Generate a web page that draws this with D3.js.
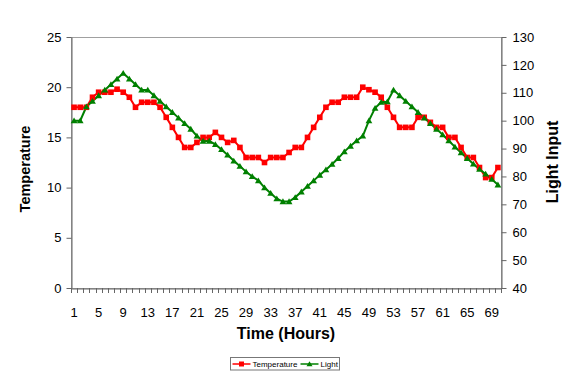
<!DOCTYPE html>
<html>
<head>
<meta charset="utf-8">
<script src="https://cdn.jsdelivr.net/npm/d3@7"></script>
<style>
  body { margin: 0; background: #fff; }
  svg { display: block; font-family: "Liberation Sans", Arial, sans-serif; }
</style>
</head>
<body>
<svg id="chart" width="583" height="384"></svg>
<script>
// hours 1..70
const hours = d3.range(1, 71)
const temperature = [
  18, 18, 18, 19, 19.5, 19.5, 19.5, 19.8, 19.5, 19,
  18, 18.5, 18.5, 18.5, 18, 17, 16, 15, 14, 14,
  14.5, 15, 15, 15.5, 15, 14.5, 14.7, 14, 13, 13,
  13, 12.5, 13, 13, 13, 13.5, 14, 14, 15, 16,
  17, 18, 18.5, 18.5, 19, 19, 19, 20, 19.75, 19.5,
  19, 18, 17, 16, 16, 16, 17, 17, 16.5, 16,
  16, 15, 15, 14, 13, 13, 12, 11, 11, 12
]
const light = [
  100, 100, 105, 107, 109, 111, 113, 115, 117, 115,
  113, 111, 111, 109, 107, 105, 103, 101, 99, 97,
  94.5, 92.7, 92.7, 91.5, 89.7, 87.7, 85.6, 83.7, 81.7, 80,
  78.5, 76, 74, 72, 71, 71, 72.5, 74.5, 76.5, 78.5,
  80.5, 82.4, 84.4, 86.5, 88.9, 90.9, 92.8, 94.5, 100, 104.5,
  106.6, 106.8, 111, 109, 107, 105, 103, 101, 99, 97,
  95, 92.8, 90.6, 88.5, 86.5, 84.5, 82.6, 80.9, 79, 77
]
const tempTicks = [0, 5, 10, 15, 20, 25]
const lightTicks = [40, 50, 60, 70, 80, 90, 100, 110, 120, 130]
const hourLabels = hours.filter((h) => (h - 1) % 4 === 0)

const plot = { left: 71, right: 501, top: 37, bottom: 288 }
const svg = d3.select('#chart')

const x = d3.scaleBand().domain(hours).range([plot.left, plot.right]).padding(0)
const yT = d3.scaleLinear().domain([0, 25]).range([plot.bottom, plot.top])
const yL = d3.scaleLinear().domain([40, 130]).range([plot.bottom, plot.top])
const cx = (h) => x(h) + x.bandwidth() / 2

// plot area border
svg.append('rect')
  .attr('x', plot.left + 0.5)
  .attr('y', plot.top + 0.5)
  .attr('width', plot.right - plot.left)
  .attr('height', plot.bottom - plot.top)
  .style('fill', 'none')
  .style('stroke', '#a0a0a0')

// left axis
const leftAxis = svg.append('g')
  .attr('transform', `translate(${plot.left + 0.5},0)`)
  .call(d3.axisLeft(yT).tickValues(tempTicks).tickSize(5).tickPadding(5).tickSizeOuter(0))
// right axis
const rightAxis = svg.append('g')
  .attr('transform', `translate(${plot.right + 0.5},0)`)
  .call(d3.axisRight(yL).tickValues(lightTicks).tickSize(5).tickPadding(6).tickSizeOuter(0))
// bottom axis labels
const bottomAxis = svg.append('g')
  .attr('transform', `translate(0,${plot.bottom + 0.5})`)
  .call(d3.axisBottom(x).tickValues(hourLabels).tickSize(0).tickPadding(19).tickSizeOuter(0))

;[leftAxis, rightAxis, bottomAxis].forEach((g) => {
  g.select('.domain').style('stroke', '#666')
  g.selectAll('.tick line').style('stroke', '#666')
  g.selectAll('text')
    .style('font-size', '13px')
    .style('font-family', '"Liberation Sans", Arial, sans-serif')
    .style('fill', '#000')
})

// category tick marks between the hours
const bounds = hours.map((h) => x(h)).concat([plot.right])
svg.append('g')
  .selectAll('line')
  .data(bounds)
  .join('line')
  .attr('x1', (d) => Math.round(d) + 0.5)
  .attr('x2', (d) => Math.round(d) + 0.5)
  .attr('y1', plot.bottom)
  .attr('y2', plot.bottom + 5)
  .style('stroke', '#666')

// series
const lineT = d3.line().x((d, i) => cx(hours[i])).y((d) => yT(d))
const lineL = d3.line().x((d, i) => cx(hours[i])).y((d) => yL(d))

svg.append('path')
  .attr('d', lineT(temperature))
  .style('fill', 'none')
  .style('stroke', '#ff0000')
  .style('stroke-width', 2)

svg.append('path')
  .attr('d', lineL(light))
  .style('fill', 'none')
  .style('stroke', '#008000')
  .style('stroke-width', 2)

const triangle = 'M0,-3.2L3.4,2.6L-3.4,2.6Z'

svg.append('g')
  .selectAll('rect')
  .data(temperature)
  .join('rect')
  .attr('x', (d, i) => cx(hours[i]) - 2.8)
  .attr('y', (d) => yT(d) - 2.8)
  .attr('width', 5.6)
  .attr('height', 5.6)
  .style('fill', '#ff0000')

svg.append('g')
  .selectAll('path')
  .data(light)
  .join('path')
  .attr('d', triangle)
  .attr('transform', (d, i) => `translate(${cx(hours[i])},${yL(d)})`)
  .style('fill', '#008000')

// titles
svg.append('text')
  .text('Temperature')
  .attr('transform', 'translate(25,169) rotate(-90)')
  .attr('text-anchor', 'middle')
  .attr('dy', '0.35em')
  .style('font-size', '14.5px')
  .style('font-weight', 'bold')

svg.append('text')
  .text('Light Input')
  .attr('transform', 'translate(552,162) rotate(-90)')
  .attr('text-anchor', 'middle')
  .attr('dy', '0.35em')
  .style('font-size', '16px')
  .style('font-weight', 'bold')

svg.append('text')
  .text('Time (Hours)')
  .attr('x', 286)
  .attr('y', 339)
  .attr('text-anchor', 'middle')
  .style('font-size', '16px')
  .style('font-weight', 'bold')

// legend
const legend = svg.append('g').attr('transform', 'translate(230.5,357.5)')
legend.append('rect')
  .attr('width', 109)
  .attr('height', 12.5)
  .style('fill', '#fff')
  .style('stroke', '#777')

const legendItems = [
  { name: 'Temperature', color: '#ff0000', x0: 2, marker: 'square' },
  { name: 'Light', color: '#008000', x0: 70, marker: 'triangle' }
]
legendItems.forEach((it) => {
  legend.append('line')
    .attr('x1', it.x0)
    .attr('x2', it.x0 + 18)
    .attr('y1', 6.5)
    .attr('y2', 6.5)
    .style('stroke', it.color)
    .style('stroke-width', 1.5)
  if (it.marker === 'square') {
    legend.append('rect')
      .attr('x', it.x0 + 9 - 2.5)
      .attr('y', 6.5 - 2.5)
      .attr('width', 5)
      .attr('height', 5)
      .style('fill', it.color)
  } else {
    legend.append('path')
      .attr('d', 'M0,-2.8L3,2.2L-3,2.2Z')
      .attr('transform', `translate(${it.x0 + 9},6.5)`)
      .style('fill', it.color)
  }
  legend.append('text')
    .text(it.name)
    .attr('x', it.x0 + 20)
    .attr('y', 9.5)
    .style('font-size', '8px')
})
</script>
</body>
</html>
